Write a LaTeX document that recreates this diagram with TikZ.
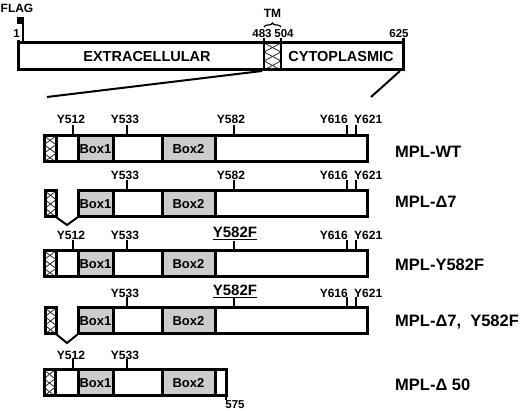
\documentclass[tikz,border=0pt]{standalone}
\usepackage{fontspec}
\setmainfont{Liberation Sans}
\usetikzlibrary{decorations.pathreplacing}
\tikzset{
  bar/.style={line width=3pt},
  ticks/.style={line width=2pt},
  boxfill/.style={fill=black!20},
  xhl/.style={line width=0.8pt, black!85},
  ylab/.style={font=\bfseries\fontsize{12}{13}\selectfont, inner sep=0pt},
  fylab/.style={font=\bfseries\fontsize{15}{16}\selectfont, inner sep=0pt},
  boxlab/.style={font=\bfseries\fontsize{13}{14}\selectfont, inner sep=0pt},
  biglab/.style={font=\bfseries\fontsize{14.5}{16}\selectfont, inner sep=0pt},
  namelab/.style={font=\bfseries\fontsize{16.5}{18}\selectfont, inner sep=0pt, anchor=west},
  numlab/.style={font=\bfseries\fontsize{11.5}{12}\selectfont, inner sep=0pt},
}
% crosshatch: x0 y0 x1 y1 n
\newcommand{\myxh}[5]{%
  \begin{scope}
    \clip (#1,#2) rectangle (#3,#4);
    \pgfmathsetmacro\myhh{((#4)-(#2))/#5}
    \foreach \i in {1,...,#5}{
      \draw[xhl] (#1,{#2+(\i-1)*\myhh}) -- (#3,{#2+\i*\myhh});
      \draw[xhl] (#3,{#2+(\i-1)*\myhh}) -- (#1,{#2+\i*\myhh});
    }
  \end{scope}}
% main segments, top #1
\newcommand{\mysegs}[2]{%
  \fill[boxfill] (78,#1) rectangle (113,#1+26);
  \fill[boxfill] (162,#1) rectangle (215,#1+26);
  \node[boxlab] at (95.5,#1+13) {Box1};
  \node[boxlab] at (188.5,#1+13) {Box2};
  \draw[bar] (113,#1)--(113,#1+26) (162,#1)--(162,#1+26) (215,#1)--(215,#1+26);
}
\begin{document}
\begin{tikzpicture}[x=1pt,y=-1pt]
\useasboundingbox (0,0) rectangle (520,411);

% ---------- top schematic ----------
\fill (17,17) rectangle (24,24);
\draw[line width=1.5pt] (23,24) -- (23,43);
\node[ylab] (flag) at (17,8) {FLAG};
\node[numlab] (n1) at (16.5,34) {1};
\myxh{264}{43}{281}{70}{3}
\draw[bar] (18,43) rectangle (403,70);
\draw[bar] (18,40) -- (18,43);
\draw[ticks] (264,38) -- (264,70);
\draw[ticks] (281,38) -- (281,70);
\draw[bar] (403,38) -- (403,43);
\node[numlab] (n483) at (262,34) {483};
\node[numlab] (n504) at (284,34) {504};
\node[numlab] (n625) at (399,34) {625};
\draw[line width=1.2pt, decorate, decoration={brace, amplitude=4pt}] (264,27) -- (281,27);
\node[ylab] (tm) at (272.5,13) {TM};
\node[biglab] (extra) at (147,57) {EXTRACELLULAR};
\node[biglab] (cyto) at (341,57) {CYTOPLASMIC};
\draw[line width=2pt] (262,71) -- (47,97);
\draw[line width=2pt] (400,71) -- (371,97);

% ---------- row 1: MPL-WT ----------
\mysegs{136}{367}
\myxh{44}{136}{56}{162}{3}
\draw[bar] (44,136) rectangle (367,162);
\draw[bar] (56,136)--(56,162) (78,136)--(78,162);
\draw[ticks] (73,136)--(73,125) (127,136)--(127,125) (234,136)--(234,125) (347,136)--(347,125) (356,136)--(356,125);
\node[ylab] (a512) at (71,119) {Y512};
\node[ylab] (a533) at (125,119) {Y533};
\node[ylab] (a582) at (231,119) {Y582};
\node[ylab,anchor=east] (a616) at (348,119) {Y616};
\node[ylab,anchor=west] (a621) at (354,119) {Y621};
\node[namelab] (nwt) at (395,152) {MPL-WT};

% ---------- row 2: MPL-D7 ----------
\myxh{45}{191}{56}{217}{3}
\draw[bar] (45,191) rectangle (56,217);
\mysegs{191}{367}
\draw[bar] (78,191) rectangle (367,217);
\draw[line width=2pt, line join=miter] (56,217) -- (67,225) -- (78,217);
\draw[ticks] (127,191)--(127,180) (234,191)--(234,180) (347,191)--(347,180) (356,191)--(356,180);
\node[ylab] (b533) at (125,175) {Y533};
\node[ylab] (b582) at (231,175) {Y582};
\node[ylab,anchor=east] (b616) at (348,175) {Y616};
\node[ylab,anchor=west] (b621) at (354,175) {Y621};
\node[namelab] (nd7) at (395,202) {MPL-Δ7};

% ---------- row 3: MPL-Y582F ----------
\mysegs{251}{367}
\myxh{44}{251}{56}{277}{3}
\draw[bar] (44,251) rectangle (367,277);
\draw[bar] (56,251)--(56,277) (78,251)--(78,277);
\draw[ticks] (73,251)--(73,240) (127,251)--(127,240) (234,251)--(234,241) (347,251)--(347,240) (356,251)--(356,240);
\node[ylab] (c512) at (71,235) {Y512};
\node[ylab] (c533) at (125,235) {Y533};
\node[fylab] (c582) at (235,232) {Y582F};
\draw[line width=1.3pt] ([yshift=-2pt]c582.south west) -- ([yshift=-2pt]c582.south east);
\node[ylab,anchor=east] (c616) at (348,235) {Y616};
\node[ylab,anchor=west] (c621) at (354,235) {Y621};
\node[namelab] (ny) at (395,265) {MPL-Y582F};

% ---------- row 4: MPL-D7, Y582F ----------
\myxh{45}{308}{56}{334}{3}
\draw[bar] (45,308) rectangle (56,334);
\mysegs{308}{367}
\draw[bar] (78,308) rectangle (367,334);
\draw[line width=2pt, line join=miter] (56,334) -- (67,343) -- (78,334);
\draw[ticks] (127,308)--(127,297) (234,308)--(234,298) (347,308)--(347,297) (356,308)--(356,297);
\node[ylab] (d533) at (125,293) {Y533};
\node[fylab] (d582) at (235,290) {Y582F};
\draw[line width=1.3pt] ([yshift=-2pt]d582.south west) -- ([yshift=-2pt]d582.south east);
\node[ylab,anchor=east] (d616) at (348,293) {Y616};
\node[ylab,anchor=west] (d621) at (354,293) {Y621};
\node[namelab] (nd7y) at (395,322) {MPL-Δ7,\ \ Y582F};

% ---------- row 5: MPL-D50 ----------
\mysegs{370}{226}
\myxh{44}{370}{55}{396}{3}
\draw[bar] (44,370) rectangle (226,396);
\draw[bar] (55,370)--(55,396) (78,370)--(78,396);
\draw[ticks] (226,396) -- (226,400);
\draw[ticks] (73,370)--(73,359) (127,370)--(127,359);
\node[ylab] (e512) at (71,355) {Y512};
\node[ylab] (e533) at (125,355) {Y533};
\node[numlab] (n575) at (235,405) {575};
\node[namelab] (nd50) at (395,385) {MPL-Δ 50};
\end{tikzpicture}
\end{document}
